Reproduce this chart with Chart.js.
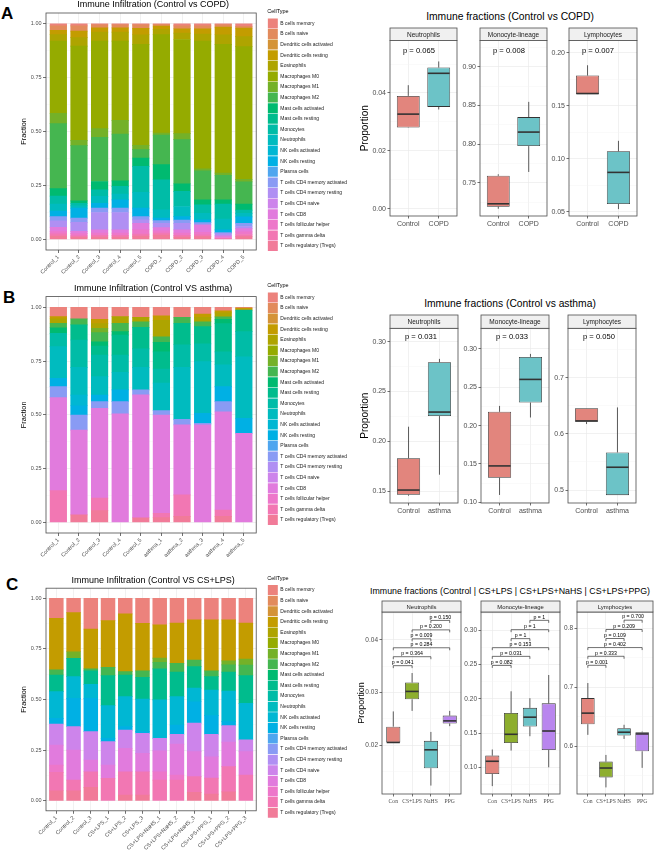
<!DOCTYPE html>
<html>
<head>
<meta charset="utf-8">
<title>Immune infiltration</title>
<script src="https://cdn.jsdelivr.net/npm/chart.js@4.4.1/dist/chart.umd.min.js"></script>
<style>
  html, body { margin: 0; padding: 0; background: #ffffff; }
  body { position: relative; width: 658px; height: 851px; overflow: hidden; font-family: "Liberation Sans", Arial, sans-serif; }
  canvas { position: absolute; }
  .tag { position: absolute; font-weight: bold; font-size: 17px; line-height: 17px; color: #000; }
  .head { position: absolute; white-space: nowrap; color: #000; transform: translateX(-50%); line-height: 1; }
</style>
</head>
<body>
<div class="tag" style="left:1px;top:5px">A</div>
<div class="tag" style="left:3px;top:289px">B</div>
<div class="tag" style="left:6px;top:576px">C</div>
<div class="head" style="left:510px;top:12px;font-size:10.3px">Immune fractions (Control vs COPD)</div>
<div class="head" style="left:510px;top:299px;font-size:10.3px">Immune fractions (Control vs asthma)</div>
<div class="head" style="left:510px;top:587px;font-size:8.8px">Immune fractions (Control | CS+LPS | CS+LPS+NaHS | CS+LPS+PPG)</div>
<script>
// ---- data ----
const cellTypes = [
  'B cells memory', 'B cells naive', 'Dendritic cells activated', 'Dendritic cells resting',
  'Eosinophils', 'Macrophages M0', 'Macrophages M1', 'Macrophages M2',
  'Mast cells activated', 'Mast cells resting', 'Monocytes', 'Neutrophils',
  'NK cells activated', 'NK cells resting', 'Plasma cells', 'T cells CD4 memory activated',
  'T cells CD4 memory resting', 'T cells CD4 naive', 'T cells CD8', 'T cells follicular helper',
  'T cells gamma delta', 'T cells regulatory (Tregs)'
];

const samplesA = ['Control_1', 'Control_2', 'Control_3', 'Control_4', 'Control_5', 'COPD_1', 'COPD_2', 'COPD_3', 'COPD_4', 'COPD_5'];
const samplesB = ['Control_1', 'Control_2', 'Control_3', 'Control_4', 'Control_5', 'asthma_1', 'asthma_2', 'asthma_3', 'asthma_4', 'asthma_5'];
const samplesC = ['Control_1', 'Control_2', 'Control_3', 'CS+LPS_1', 'CS+LPS_2', 'CS+LPS_3',
  'CS+LPS+NaHS_1', 'CS+LPS+NaHS_2', 'CS+LPS+NaHS_3', 'CS+LPS+PPG_1', 'CS+LPS+PPG_2', 'CS+LPS+PPG_3'];

// one row per sample, columns in cellTypes order
const fractionsA = [
  [0.01, 0.02, 0, 0.02, 0.03, 0.336, 0.047, 0.302, 0.035, 0, 0.037, 0.033, 0, 0.025, 0, 0.02, 0.03, 0, 0.02, 0.01, 0.01, 0.015],
  [0.01, 0.024, 0, 0.03, 0.04, 0.437, 0.025, 0.256, 0.011, 0, 0.012, 0.011, 0, 0.046, 0, 0.02, 0.042, 0, 0.01, 0.01, 0.006, 0.01],
  [0.005, 0.014, 0, 0.02, 0.042, 0.406, 0.04, 0.205, 0.039, 0, 0.03, 0.032, 0, 0.023, 0, 0.02, 0.081, 0, 0.015, 0.01, 0.008, 0.01],
  [0.005, 0.014, 0, 0.02, 0.042, 0.367, 0.064, 0.217, 0.026, 0, 0.035, 0.027, 0, 0.039, 0, 0.02, 0.081, 0, 0.015, 0.01, 0.008, 0.01],
  [0.005, 0.016, 0, 0.03, 0.045, 0.468, 0.02, 0.039, 0.039, 0, 0.12, 0.074, 0, 0.039, 0, 0.015, 0.016, 0, 0.03, 0.02, 0.01, 0.014],
  [0.004, 0.007, 0, 0.015, 0.024, 0.457, 0.01, 0.137, 0.07, 0, 0.14, 0.038, 0, 0.012, 0, 0.012, 0.02, 0, 0.015, 0.01, 0.01, 0.019],
  [0.01, 0.013, 0, 0.02, 0.03, 0.437, 0.028, 0.205, 0.035, 0, 0.07, 0.047, 0, 0.016, 0, 0.015, 0.031, 0, 0.015, 0.01, 0.008, 0.01],
  [0.01, 0.013, 0, 0.025, 0.033, 0.592, 0.01, 0.134, 0.023, 0, 0.04, 0.03, 0, 0.013, 0, 0.01, 0, 0, 0.035, 0.012, 0.008, 0.012],
  [0.005, 0.011, 0, 0.035, 0.045, 0.597, 0.01, 0.114, 0.02, 0, 0.07, 0.05, 0, 0.012, 0, 0.005, 0.01, 0, 0.008, 0.004, 0.004, 0],
  [0.012, 0.008, 0, 0.04, 0.046, 0.616, 0.012, 0.103, 0.028, 0, 0.015, 0.016, 0, 0.03, 0, 0.015, 0.01, 0, 0.015, 0.012, 0.01, 0.012]
];

const fractionsB = [
  [0.043, 0, 0, 0.01, 0.021, 0, 0, 0.021, 0.026, 0, 0.062, 0.147, 0, 0.039, 0, 0.051, 0, 0, 0.433, 0, 0.147, 0],
  [0.054, 0, 0, 0, 0, 0, 0, 0.028, 0, 0.07, 0.127, 0.129, 0.05, 0.043, 0, 0.07, 0, 0, 0.395, 0, 0, 0.034],
  [0.056, 0, 0, 0.02, 0.022, 0, 0.02, 0.042, 0.02, 0.042, 0.1, 0.086, 0, 0.031, 0, 0.031, 0, 0, 0.418, 0, 0.058, 0.054],
  [0.043, 0, 0, 0, 0.031, 0, 0, 0.039, 0.016, 0.093, 0.08, 0.082, 0, 0.055, 0, 0.057, 0, 0, 0.504, 0, 0, 0],
  [0.047, 0, 0, 0, 0.02, 0, 0, 0.026, 0, 0.1, 0.086, 0.105, 0, 0, 0, 0.023, 0, 0, 0.572, 0, 0, 0.021],
  [0.04, 0, 0, 0.02, 0.077, 0, 0, 0.026, 0.044, 0.08, 0.066, 0.128, 0, 0, 0, 0.02, 0, 0, 0.457, 0, 0.02, 0.022],
  [0.047, 0, 0, 0, 0, 0, 0, 0.027, 0, 0.1, 0.105, 0.242, 0, 0, 0, 0.026, 0, 0, 0.326, 0, 0.1, 0.027],
  [0.031, 0, 0, 0.016, 0.02, 0, 0, 0.023, 0, 0.08, 0.083, 0.24, 0, 0.047, 0, 0.007, 0, 0, 0.453, 0, 0, 0],
  [0.016, 0, 0, 0.01, 0.018, 0, 0, 0.012, 0.02, 0.131, 0.06, 0.102, 0, 0.07, 0, 0.047, 0, 0, 0.457, 0, 0.03, 0.027],
  [0.004, 0, 0, 0.009, 0, 0, 0, 0, 0, 0.1, 0.117, 0.286, 0, 0.07, 0, 0, 0, 0, 0.414, 0, 0, 0]
];

const fractionsC = [
  [0.099, 0, 0, 0.255, 0, 0, 0, 0.025, 0, 0.082, 0, 0, 0.132, 0.028, 0, 0, 0, 0.104, 0.099, 0.036, 0.091, 0.049],
  [0.071, 0, 0, 0.193, 0, 0, 0.033, 0, 0, 0.09, 0, 0, 0.107, 0.14, 0, 0, 0, 0.116, 0.148, 0, 0.054, 0.048],
  [0.152, 0, 0, 0.197, 0, 0, 0, 0.01, 0, 0.066, 0, 0, 0.069, 0.165, 0, 0, 0, 0.14, 0.058, 0, 0.077, 0.066],
  [0.11, 0, 0, 0.231, 0, 0, 0, 0.041, 0, 0.148, 0, 0, 0.162, 0.016, 0, 0, 0, 0.116, 0.066, 0, 0.11, 0],
  [0.077, 0, 0, 0.285, 0, 0, 0, 0.017, 0, 0.107, 0, 0, 0.148, 0.017, 0, 0, 0, 0.09, 0.116, 0, 0.115, 0.028],
  [0.124, 0, 0, 0.235, 0, 0, 0, 0.031, 0, 0.108, 0, 0, 0.161, 0.008, 0, 0, 0, 0.099, 0.091, 0, 0.115, 0.028],
  [0.131, 0, 0, 0.165, 0, 0, 0.02, 0.033, 0, 0.153, 0, 0, 0.19, 0, 0, 0, 0, 0.062, 0.103, 0.041, 0.102, 0],
  [0.123, 0, 0, 0.198, 0, 0, 0, 0.044, 0, 0.121, 0, 0, 0.14, 0.046, 0, 0, 0, 0.049, 0.152, 0.025, 0.102, 0],
  [0.107, 0, 0, 0.198, 0, 0, 0, 0.033, 0, 0.106, 0, 0, 0.067, 0.106, 0, 0, 0, 0.141, 0.123, 0, 0.078, 0.041],
  [0.107, 0, 0, 0.252, 0, 0, 0, 0.028, 0, 0.066, 0, 0, 0.127, 0.092, 0, 0, 0, 0.111, 0.106, 0, 0.079, 0.032],
  [0.107, 0, 0, 0.202, 0, 0, 0.02, 0.036, 0, 0.093, 0, 0, 0.151, 0.02, 0, 0, 0, 0.082, 0.121, 0, 0.124, 0.044],
  [0.123, 0, 0, 0.177, 0, 0, 0.03, 0.052, 0, 0.137, 0, 0, 0.181, 0, 0, 0, 0, 0.058, 0.115, 0, 0.127, 0]
];
const fractionTicks = [0, 0.25, 0.5, 0.75, 1];

const facetNames = ['Neutrophils', 'Monocyte-lineage', 'Lymphocytes'];
const groupsA = ['Control', 'COPD'];
const groupsB = ['Control', 'asthma'];
const groupsC = ['Con', 'CS+LPS', 'NaHS', 'PPG'];

// box stats per group: [min, q1, median, q3, max]
const neutA = [[0.0280, 0.0281, 0.0327, 0.0390, 0.0427], [0.0343, 0.0352, 0.0468, 0.0488, 0.0509]];
const monoA = [[0.7164, 0.7190, 0.7228, 0.7590, 0.7610], [0.7640, 0.7975, 0.8156, 0.8350, 0.8547]];
const lymA = [[0.1610, 0.1610, 0.1617, 0.1787, 0.1884], [0.0525, 0.0573, 0.0872, 0.1072, 0.1170]];
const pA = ['0.065', '0.008', '0.007'];

const neutB = [[0.1453, 0.1463, 0.1510, 0.1830, 0.2146], [0.1664, 0.2253, 0.2293, 0.2794, 0.2827]];
const monoB = [[0.1095, 0.1319, 0.1474, 0.2180, 0.2257], [0.2106, 0.2300, 0.2603, 0.2897, 0.2936]];
const lymB = [[0.6174, 0.6213, 0.6230, 0.6457, 0.6457], [0.4910, 0.4910, 0.5406, 0.5670, 0.6470]];
const pB = ['0.031', '0.033', '0.050'];

const neutC = [[0.0205, 0.0205, 0.0205, 0.0235, 0.0264], [0.0265, 0.0287, 0.0302, 0.0319, 0.0337],
  [0.0123, 0.0156, 0.0191, 0.0208, 0.0225], [0.0236, 0.0241, 0.0246, 0.0256, 0.0265]];
const monoC = [[0.0725, 0.0903, 0.1088, 0.1171, 0.1260], [0.1244, 0.1354, 0.1482, 0.1793, 0.2110],
  [0.1454, 0.1595, 0.1732, 0.1868, 0.2009], [0.1000, 0.1253, 0.1530, 0.1934, 0.2348]];
const lymC = [[0.6194, 0.6375, 0.6563, 0.6818, 0.7074], [0.5302, 0.5472, 0.5631, 0.5740, 0.5853],
  [0.6125, 0.6182, 0.6239, 0.6307, 0.6365], [0.5634, 0.5915, 0.6210, 0.6238, 0.6250]];

const pairsC = [[1, 2], [1, 3], [1, 4], [2, 3], [2, 4], [3, 4]];
const neutCp = ['0.041', '0.364', '0.284', '0.009', '0.200', '0.150'];
const neutCy = [0.0351, 0.0368, 0.0385, 0.0402, 0.0419, 0.0437];
const monoCp = ['0.082', '0.031', '0.153', '1', '1', '1'];
const monoCy = [0.2488, 0.2620, 0.2747, 0.2879, 0.3010, 0.3146];
const lymCp = ['0.001', '0.333', '0.402', '0.109', '0.209', '0.700'];
const lymCy = [0.7375, 0.7528, 0.7676, 0.7830, 0.7983, 0.8141];

const neutATicks = [0, 0.02, 0.04];
const monoATicks = [0.75, 0.80, 0.85, 0.90];
const lymATicks = [0.05, 0.10, 0.15, 0.20];
const neutBTicks = [0.15, 0.20, 0.25, 0.30];
const monoBTicks = [0.10, 0.15, 0.20, 0.25, 0.30];
const lymBTicks = [0.5, 0.6, 0.7];
const neutCTicks = [0.02, 0.03, 0.04];
const monoCTicks = [0.10, 0.15, 0.20, 0.25, 0.30];
const lymCTicks = [0.6, 0.7, 0.8];

// box fills
const boxTwo = ['#E2857D', '#6CC3C7'];
const boxFour = ['#E2857D', '#8DAE2E', '#6CC3C7', '#B986EE'];

// ---- styling helpers ----
Chart.defaults.font.family = '"Liberation Sans", Arial, sans-serif';
Chart.defaults.color = '#4D4D4D';

// ggplot-style hue palette (R's hcl())
function hcl(h, c, l) {
  const hr = h * Math.PI / 180;
  const U = c * Math.cos(hr), V = c * Math.sin(hr);
  const Y = 100 * (l > 7.999592 ? Math.pow((l + 16) / 116, 3) : l / 903.3);
  const u = U / (13 * l) + 0.1978398, v = V / (13 * l) + 0.4683363;
  const X = 9 * Y * u / (4 * v);
  const Z = -X / 3 - 5 * Y + 3 * Y / v;
  const gam = t => {
    t = t > 0.00304 ? 1.055 * Math.pow(t, 1 / 2.4) - 0.055 : 12.92 * t;
    return Math.round(255 * Math.min(1, Math.max(0, t)));
  };
  const r = gam((3.240479 * X - 1.53715 * Y - 0.498535 * Z) / 100);
  const g = gam((-0.969256 * X + 1.875992 * Y + 0.041556 * Z) / 100);
  const b = gam((0.055648 * X - 0.204043 * Y + 1.057311 * Z) / 100);
  return `rgb(${r},${g},${b})`;
}
// the printed figure looks a little less saturated than the raw ggplot hues
const cellColors = cellTypes.map((_, i) => hcl(15 + i * 360 / cellTypes.length, 78, 66));

function tickSet(majors, min, max) {
  const half = (majors[1] - majors[0]) / 2;
  const out = [];
  for (let k = -2; k <= (majors.length - 1) * 2 + 2; k++) {
    const v = majors[0] + k * half;
    if (v < min - 1e-9 || v > max + 1e-9) continue;
    out.push({ value: v, minor: k % 2 !== 0 });
  }
  return out;
}

const gridStyle = {
  offset: false,
  color: c => (c.tick && c.tick.minor ? '#F3F3F3' : '#EBEBEB'),
  lineWidth: c => (c.tick && c.tick.minor ? 0.4 : 0.7),
  tickColor: c => (c.tick && c.tick.minor ? 'rgba(0,0,0,0)' : '#333333'),
  tickWidth: 0.7,
  tickLength: 3
};

function addCanvas(left, top, width, height) {
  const cv = document.createElement('canvas');
  cv.width = Math.round(width);
  cv.height = Math.round(height);
  cv.style.left = left + 'px';
  cv.style.top = top + 'px';
  cv.style.width = Math.round(width) + 'px';
  cv.style.height = Math.round(height) + 'px';
  document.body.appendChild(cv);
  return cv;
}

// panel border, strip, titles, whiskers, p-values
const panelDecor = {
  id: 'panelDecor',
  afterDatasetsDraw(chart, args, o) {
    if (!o.stats) return;
    const { ctx, scales } = chart;
    const meta = chart.getDatasetMeta(0);
    const py = v => scales.y.getPixelForValue(v);
    ctx.save();
    ctx.strokeStyle = '#333333';
    o.stats.forEach((s, i) => {
      const bar = meta.data[i];
      const cx = bar.x, hw = bar.width / 2;
      ctx.lineWidth = 0.8;
      ctx.beginPath();
      ctx.moveTo(cx, py(s[3])); ctx.lineTo(cx, py(s[4]));
      ctx.moveTo(cx, py(s[1])); ctx.lineTo(cx, py(s[0]));
      ctx.stroke();
      ctx.lineWidth = 1.6;
      ctx.beginPath();
      ctx.moveTo(cx - hw + 0.5, py(s[2])); ctx.lineTo(cx + hw - 0.5, py(s[2]));
      ctx.stroke();
    });
    ctx.restore();
  },
  afterDraw(chart, args, o) {
    const { ctx, chartArea: a, scales } = chart;
    ctx.save();
    ctx.strokeStyle = '#4D4D4D';
    ctx.lineWidth = 0.8;
    ctx.strokeRect(a.left, a.top, a.right - a.left, a.bottom - a.top);
    if (o.title) {
      ctx.fillStyle = '#000';
      ctx.font = `${o.titleSize}px "Liberation Sans", Arial, sans-serif`;
      ctx.textAlign = 'center';
      ctx.textBaseline = 'middle';
      ctx.fillText(o.title, (a.left + a.right) / 2 + 2, a.top - 8);
    }
    if (o.strip) {
      const st = a.top - o.stripH;
      ctx.fillStyle = '#F0F0F0';
      ctx.fillRect(a.left, st, a.right - a.left, o.stripH);
      ctx.strokeRect(a.left, st, a.right - a.left, o.stripH);
      ctx.fillStyle = '#1A1A1A';
      ctx.font = `${o.stripSize}px "Liberation Sans", Arial, sans-serif`;
      ctx.textAlign = 'center';
      ctx.textBaseline = 'middle';
      ctx.fillText(o.strip, (a.left + a.right) / 2, st + o.stripH / 2 + 0.5);
    }
    if (o.pText) {
      ctx.fillStyle = '#000';
      ctx.font = '7.6px "Liberation Sans", Arial, sans-serif';
      ctx.textAlign = 'left';
      ctx.textBaseline = 'middle';
      ctx.fillText('p = ' + o.pText, a.left + o.pDx, a.top + o.pDy);
    }
    if (o.brackets) {
      ctx.strokeStyle = '#333333';
      ctx.lineWidth = 0.7;
      ctx.fillStyle = '#000';
      ctx.font = '5.2px "Liberation Sans", Arial, sans-serif';
      ctx.textAlign = 'center';
      ctx.textBaseline = 'bottom';
      o.brackets.forEach(b => {
        const x1 = scales.x.getPixelForValue(b.pair[0]);
        const x2 = scales.x.getPixelForValue(b.pair[1]);
        const yy = scales.y.getPixelForValue(b.y);
        ctx.beginPath();
        ctx.moveTo(x1, yy + 2.5); ctx.lineTo(x1, yy); ctx.lineTo(x2, yy); ctx.lineTo(x2, yy + 2.5);
        ctx.stroke();
        ctx.fillText('p = ' + b.p, (x1 + x2) / 2, yy - 0.6);
      });
    }
    ctx.restore();
  }
};

// ---- stacked composition bars ----
function legendWidth() {
  const c = document.createElement('canvas').getContext('2d');
  c.font = '5px "Liberation Sans", Arial, sans-serif';
  const tw = Math.max(...cellTypes.map(t => c.measureText(t).width));
  return 0.6 + 10 + 2.5 + tw + 10;
}

function makeBars(cfg) {
  const lw = legendWidth();
  const width = 267 + lw;
  const cv = addCanvas(0, cfg.top, width, cfg.bottom - cfg.top);
  const n = cfg.samples.length;
  // zero fractions become gaps so nothing is painted for them
  const datasets = cellTypes.map((name, k) => ({
    label: name,
    data: cfg.samples.map((s, i) => ({ x: i + 1, y: cfg.fractions[i][k] || null })),
    backgroundColor: cellColors[k],
    borderWidth: 0,
    inflateAmount: 0.35,
    barPercentage: 0.8,
    categoryPercentage: 1
  })).reverse();

  new Chart(cv, {
    type: 'bar',
    data: { datasets },
    options: {
      responsive: false,
      animation: false,
      devicePixelRatio: 1,
      events: [],
      layout: { padding: { top: cfg.legendTop - cfg.top, left: 0, right: 0, bottom: 0 } },
      plugins: {
        tooltip: { enabled: false },
        legend: {
          position: 'right',
          align: 'start',
          reverse: true,
          maxWidth: 400,
          title: {
            display: true, text: 'CellType', position: 'start', color: '#000',
            font: { size: 5.5 }, padding: { top: 3, bottom: 2.2 }
          },
          labels: { boxWidth: 10, boxHeight: 10, padding: 0.6, color: '#1A1A1A', font: { size: 5 } }
        },
        panelDecor: { title: cfg.title, titleSize: 9 }
      },
      scales: {
        x: {
          type: 'linear', stacked: true, offset: false, min: 0.4, max: n + 0.6,
          afterBuildTicks: s => { s.ticks = cfg.samples.map((_, i) => ({ value: i + 1 })); },
          afterFit: s => { s.height = cfg.bottom - cfg.panelBottom; },
          ticks: {
            callback: v => cfg.samples[v - 1], autoSkip: false, minRotation: 45, maxRotation: 45,
            font: { size: 5.5 }, color: '#4D4D4D', padding: 1
          },
          grid: { offset: false, color: '#EBEBEB', lineWidth: 0.7, tickColor: '#333333', tickWidth: 0.7, tickLength: 3 },
          border: { display: false }
        },
        y: {
          stacked: true, min: -0.05, max: 1.05,
          afterBuildTicks: s => { s.ticks = tickSet(fractionTicks, -0.05, 1.05); },
          afterFit: s => { s.width = 46; },
          ticks: {
            callback: (v, i, t) => (t[i].minor ? '' : v.toFixed(2)),
            font: { size: 5.5 }, color: '#4D4D4D', padding: 1.5
          },
          title: { display: true, text: 'Fraction', color: '#000', font: { size: 7.4 }, padding: { top: 20, bottom: 0 } },
          grid: gridStyle,
          border: { display: false }
        },
        padTop: {
          axis: 'x', position: 'top', type: 'linear', display: true,
          ticks: { display: false }, grid: { display: false, drawTicks: false }, border: { display: false },
          afterFit: s => { s.height = cfg.panelTop - cfg.legendTop; }
        },
        padRight: {
          axis: 'y', position: 'right', type: 'linear', display: true,
          ticks: { display: false }, grid: { display: false, drawTicks: false }, border: { display: false },
          afterFit: s => { s.width = 11; }
        }
      }
    },
    plugins: [panelDecor]
  });
}

// ---- boxplot facets ----
function makeFacet(cfg) {
  const left = cfg.x0 - cfg.axisW;
  const top = cfg.stripTop - 1;
  const cv = addCanvas(left, top, cfg.x1 - left + 2, cfg.y1 + cfg.xAxisH - top);
  const n = cfg.groups.length;
  new Chart(cv, {
    type: 'bar',
    data: {
      datasets: [{
        data: cfg.stats.map((s, i) => ({ x: i + 1, y: [s[1], s[3]] })),
        backgroundColor: cfg.colors,
        borderColor: '#333333',
        borderWidth: 0.8,
        borderSkipped: false,
        barPercentage: 0.75,
        categoryPercentage: 1
      }]
    },
    options: {
      responsive: false,
      animation: false,
      devicePixelRatio: 1,
      events: [],
      layout: { padding: { top: cfg.y0 - top, right: 2, left: 0, bottom: 0 } },
      plugins: {
        legend: { display: false },
        tooltip: { enabled: false },
        panelDecor: {
          stats: cfg.stats, strip: cfg.strip, stripH: cfg.y0 - cfg.stripTop, stripSize: cfg.stripSize,
          pText: cfg.p, pDx: cfg.pDx, pDy: cfg.pDy, brackets: cfg.brackets
        }
      },
      scales: {
        x: {
          type: 'linear', offset: false, min: 0.4, max: n + 0.6,
          afterBuildTicks: s => { s.ticks = cfg.groups.map((_, i) => ({ value: i + 1 })); },
          afterFit: s => { s.height = cfg.xAxisH; },
          ticks: {
            callback: v => cfg.groups[v - 1], autoSkip: false, maxRotation: 0, minRotation: 0,
            font: cfg.xFont, color: '#4D4D4D', padding: 1.5
          },
          grid: { offset: false, color: '#EBEBEB', lineWidth: 0.7, tickColor: '#333333', tickWidth: 0.7, tickLength: 2.5 },
          border: { display: false }
        },
        y: {
          min: cfg.range[0], max: cfg.range[1],
          afterBuildTicks: s => { s.ticks = tickSet(cfg.ticks, cfg.range[0], cfg.range[1]); },
          afterFit: s => { s.width = cfg.axisW; },
          ticks: {
            callback: (v, i, t) => (t[i].minor ? '' : v.toFixed(cfg.digits)),
            font: { size: cfg.tickSize }, color: '#4D4D4D', padding: 1.5
          },
          title: cfg.yTitle
            ? { display: true, text: 'Proportion', color: '#000', font: { size: cfg.yTitle.size }, padding: { top: cfg.yTitle.pad, bottom: 0 } }
            : { display: false },
          grid: Object.assign({}, gridStyle, { tickLength: 2.5 }),
          border: { display: false }
        }
      }
    },
    plugins: [panelDecor]
  });
}

// ---- build figure ----
makeBars({ top: 0, legendTop: 6, panelTop: 13, panelBottom: 250, bottom: 275,
  samples: samplesA, fractions: fractionsA, title: 'Immune Infiltration (Control vs COPD)' });
makeBars({ top: 276, legendTop: 280, panelTop: 296.6, panelBottom: 533, bottom: 562,
  samples: samplesB, fractions: fractionsB, title: 'Immune Infiltration (Control VS asthma)' });
makeBars({ top: 566, legendTop: 572.7, panelTop: 588.2, panelBottom: 810.8, bottom: 851,
  samples: samplesC, fractions: fractionsC, title: 'Immune Infiltration (Control VS CS+LPS)' });

const abFont = { size: 7 };
const cFont = { size: 5.6, family: '"Liberation Serif", "Times New Roman", serif' };

const rowA = { stripTop: 27.7, y0: 40.3, y1: 216, xAxisH: 16, groups: groupsA, colors: boxTwo,
  xFont: abFont, tickSize: 7, stripSize: 6.5, pDx: 13, pDy: 10 };
makeFacet(Object.assign({}, rowA, { x0: 390, x1: 457.3, axisW: 36, yTitle: { size: 10, pad: 5 },
  strip: facetNames[0], stats: neutA, ticks: neutATicks, range: [-0.0025, 0.0581], digits: 2, p: pA[0] }));
makeFacet(Object.assign({}, rowA, { x0: 480, x1: 547.3, axisW: 22,
  strip: facetNames[1], stats: monoA, ticks: monoATicks, range: [0.707, 0.934], digits: 2, p: pA[1] }));
makeFacet(Object.assign({}, rowA, { x0: 569.3, x1: 637.3, axisW: 22,
  strip: facetNames[2], stats: lymA, ticks: lymATicks, range: [0.046, 0.2117], digits: 2, p: pA[2] }));

const rowB = { stripTop: 315, y0: 328.3, y1: 503.3, xAxisH: 16, groups: groupsB, colors: boxTwo,
  xFont: abFont, tickSize: 7, stripSize: 6.5, pDx: 15, pDy: 8.5 };
makeFacet(Object.assign({}, rowB, { x0: 390, x1: 458.3, axisW: 36, yTitle: { size: 10, pad: 5 },
  strip: facetNames[0], stats: neutB, ticks: neutBTicks, range: [0.138, 0.3134], digits: 2, p: pB[0] }));
makeFacet(Object.assign({}, rowB, { x0: 480.7, x1: 549, axisW: 22,
  strip: facetNames[1], stats: monoB, ticks: monoBTicks, range: [0.099, 0.327], digits: 2, p: pB[1] }));
makeFacet(Object.assign({}, rowB, { x0: 568.3, x1: 636.7, axisW: 22,
  strip: facetNames[2], stats: lymB, ticks: lymBTicks, range: [0.477, 0.7877], digits: 1, p: pB[2] }));

const brackets = (ps, ys) => pairsC.map((pair, i) => ({ pair, p: ps[i], y: ys[i] }));
const rowC = { stripTop: 600.7, y0: 611.7, y1: 793.3, xAxisH: 16, groups: groupsC, colors: boxFour,
  xFont: cFont, tickSize: 6.5, stripSize: 5.9 };
makeFacet(Object.assign({}, rowC, { x0: 381.7, x1: 461, axisW: 28, yTitle: { size: 9, pad: 2.6 },
  strip: facetNames[0], stats: neutC, ticks: neutCTicks, range: [0.0107, 0.0453], digits: 2,
  brackets: brackets(neutCp, neutCy) }));
makeFacet(Object.assign({}, rowC, { x0: 481, x1: 560, axisW: 22,
  strip: facetNames[1], stats: monoC, ticks: monoCTicks, range: [0.061, 0.3268], digits: 2,
  brackets: brackets(monoCp, monoCy) }));
makeFacet(Object.assign({}, rowC, { x0: 577, x1: 653, axisW: 18,
  strip: facetNames[2], stats: lymC, ticks: lymCTicks, range: [0.519, 0.828], digits: 1,
  brackets: brackets(lymCp, lymCy) }));
</script>
</body>
</html>
